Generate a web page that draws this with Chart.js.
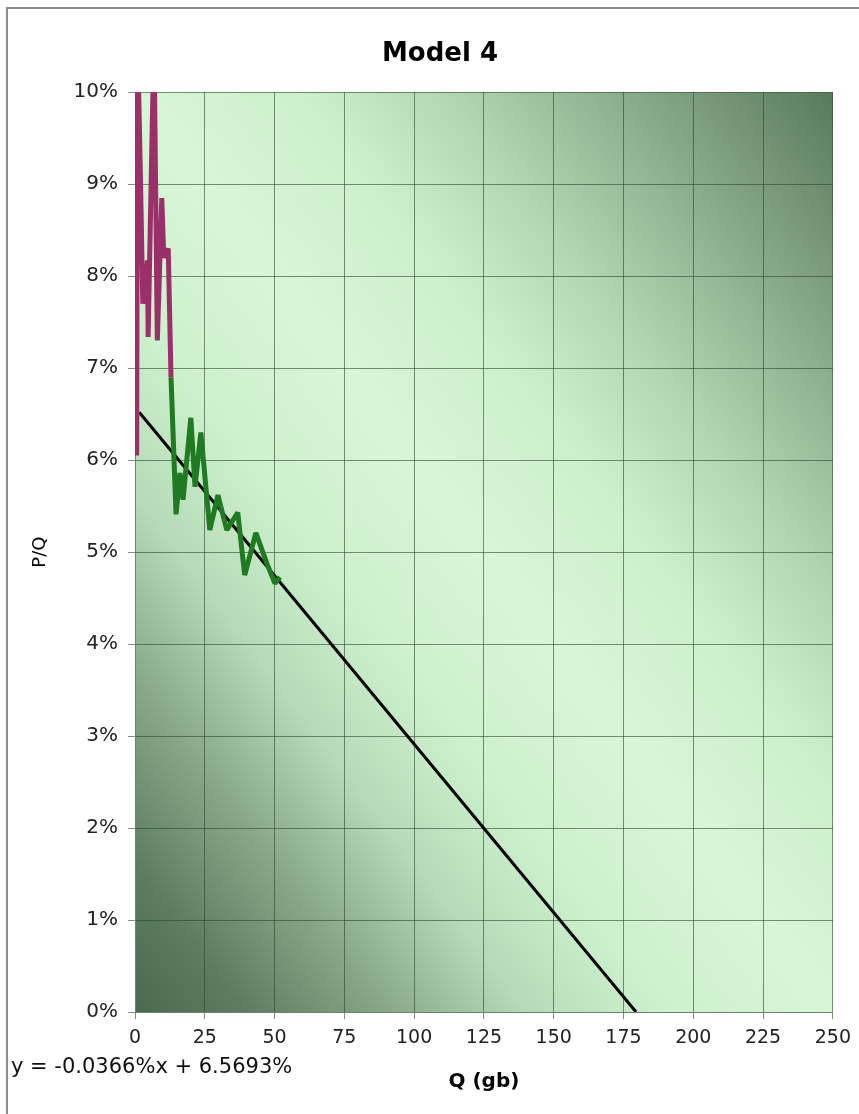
<!DOCTYPE html>
<html><head><meta charset="utf-8">
<script src="https://cdn.jsdelivr.net/npm/chart.js@4"></script>
<style>html,body{margin:0;padding:0;background:#fff;}#wrap{position:relative;width:859px;height:1114px;}</style>
</head><body><div id="wrap"><canvas id="c" width="859" height="1114"></canvas></div>
<script>
// ---- data (Q in gb, P/Q in %) ----
const X_TICKS = [0, 25, 50, 75, 100, 125, 150, 175, 200, 225, 250];
const Y_TICKS = [0, 1, 2, 3, 4, 5, 6, 7, 8, 9, 10];
const purpleQ  = [0.6, 0.9, 1.9, 2.8, 4.5, 4.7, 6.8, 8.0, 9.6, 10.3, 11.9, 12.9];
const purplePQ = [6.05, 10.6, 9.15, 7.7, 8.17, 7.34, 10.6, 7.3, 8.85, 8.2, 8.3, 6.9];
const greenQ  = [12.9, 14.7, 16.1, 17.2, 20.0, 21.5, 23.6, 26.8, 29.7, 32.9, 36.8, 39.3, 43.3, 47.2, 50.1, 51.9];
const greenPQ = [6.9, 5.41, 5.86, 5.57, 6.46, 5.71, 6.30, 5.24, 5.62, 5.24, 5.43, 4.75, 5.21, 4.88, 4.66, 4.73];
const trendQ  = [1.5, 179.5];
const trendPQ = [6.52, 0];
const equationText = 'y = -0.0366%x + 6.5693%';

const toPts = (xs, ys) => xs.map((x, i) => ({x: x, y: ys[i]}));
const FONT = '"DejaVu Sans", Verdana, sans-serif';

const bgPlugin = {
  id: 'bg',
  beforeDraw(chart) {
    const {ctx, chartArea: a} = chart;
    ctx.save();
    // outer frame
    ctx.strokeStyle = '#8c8c8c';
    ctx.lineWidth = 2;
    ctx.beginPath();
    ctx.moveTo(7, 1114); ctx.lineTo(7, 8); ctx.lineTo(859, 8);
    ctx.stroke();
    // diagonal gradient in normalized plot-area coordinates
    const w = a.right - a.left, h = a.bottom - a.top;
    ctx.translate(a.left, a.top);
    ctx.scale(w, h);
    const g = ctx.createLinearGradient(0, 1, 1, 0);
    g.addColorStop(0.0, '#4a694e');
    g.addColorStop(0.08, '#5d7d60');
    g.addColorStop(0.18, '#86a888');
    g.addColorStop(0.28, '#b6dab7');
    g.addColorStop(0.38, '#cdf0cd');
    g.addColorStop(0.5, '#d6f7d6');
    g.addColorStop(0.62, '#ccefcc');
    g.addColorStop(0.72, '#b3d6b3');
    g.addColorStop(0.82, '#93b694');
    g.addColorStop(0.92, '#739576');
    g.addColorStop(1.0, '#587a5c');
    ctx.fillStyle = g;
    ctx.fillRect(0, 0, 1, 1);
    ctx.restore();
  },
  afterDraw(chart) {
    const ctx = chart.ctx;
    ctx.save();
    ctx.font = '21px ' + FONT;
    ctx.fillStyle = '#111';
    ctx.textBaseline = 'middle';
    ctx.textAlign = 'left';
    ctx.fillText(equationText, 11, 1068);
    ctx.restore();
  }
};

const gridColor = 'rgba(45,70,45,0.6)';

new Chart(document.getElementById('c'), {
  type: 'line',
  data: {
    datasets: [
      {data: toPts(purpleQ, purplePQ), borderColor: '#9a2f6a', borderWidth: 5, pointRadius: 0, borderJoinStyle: 'bevel', clip: 0},
      {data: toPts(greenQ, greenPQ), borderColor: '#1f7a22', borderWidth: 5, pointRadius: 0, borderJoinStyle: 'bevel', clip: 0},
      {data: toPts(trendQ, trendPQ), borderColor: '#000000', borderWidth: 3, pointRadius: 0, clip: 0}
    ]
  },
  options: {
    responsive: false,
    animation: false,
    devicePixelRatio: 1,
    layout: {padding: {left: 46, right: 25, top: 0, bottom: 0}},
    plugins: {
      legend: {display: false},
      tooltip: {enabled: false},
      title: {
        display: true, text: 'Model 4', color: '#000',
        font: {family: FONT, size: 26, weight: 'bold'},
        padding: {top: 39, bottom: 22}
      }
    },
    scales: {
      x: {
        type: 'linear', min: 0, max: 250,
        afterFit: s => { s.height = 102; },
        afterBuildTicks: s => { s.ticks = X_TICKS.map(v => ({value: v})); },
        ticks: {color: '#222', font: {family: FONT, size: 19}, padding: 8, maxRotation: 0},
        grid: {color: gridColor, tickColor: gridColor, tickLength: 7},
        border: {color: '#6f7f6f'},
        title: {display: true, text: 'Q (gb)', color: '#000', font: {family: FONT, size: 20, weight: 'bold'}, padding: {top: 0, bottom: 20}}
      },
      y: {
        min: 0, max: 10,
        afterFit: s => { s.width = 89; },
        afterBuildTicks: s => { s.ticks = Y_TICKS.map(v => ({value: v})); },
        ticks: {color: '#222', font: {family: FONT, size: 20}, padding: 10, callback: v => v + '%'},
        grid: {color: gridColor, tickColor: gridColor, tickLength: 7},
        border: {color: '#6f7f6f'},
        title: {display: true, text: 'P/Q', color: '#000', font: {family: FONT, size: 18}, padding: {top: -16.8, bottom: 0}}
      }
    }
  },
  plugins: [bgPlugin]
});
</script></body></html>
